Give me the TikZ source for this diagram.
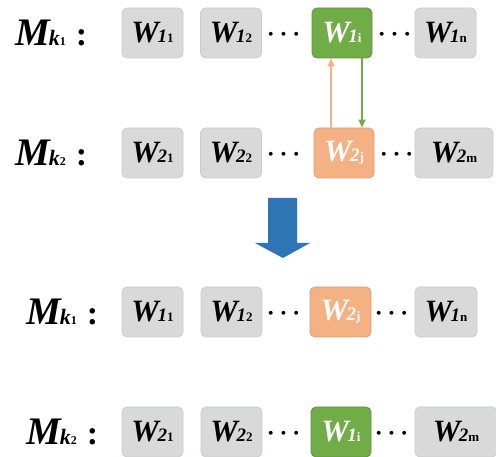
\documentclass[tikz,border=0pt]{standalone}
\usepackage{amsmath}
\usepackage{fontspec}
\setmainfont{Liberation Serif}
\usetikzlibrary{arrows.meta}
\definecolor{boxgray}{HTML}{D9D9D9}
\definecolor{boxedge}{HTML}{C6CCD4}
\definecolor{mygreen}{HTML}{70AD47}
\definecolor{myorange}{HTML}{F4B183}
\definecolor{myblue}{HTML}{2E75B6}
\newcommand{\wlab}[2]{{\fontsize{31}{31}\selectfont\bfseries\itshape W}\kern-1.5pt{\fontsize{19}{19}\selectfont\bfseries\itshape #1}{\fontsize{13}{13}\selectfont\bfseries #2}}
\newcommand{\mlab}[1]{{\fontsize{39}{39}\selectfont\bfseries\itshape M}\kern-1pt{\fontsize{22}{22}\selectfont\bfseries\itshape k}{\fontsize{12}{12}\selectfont\bfseries #1}\hspace{10pt}{\fontsize{34}{34}\selectfont\bfseries :}}
\tikzset{
  wbox/.style={draw=boxedge, line width=0.8pt, fill=boxgray, rounded corners=5pt, minimum height=50pt, inner sep=0pt, text=black},
  gbox/.style={wbox, fill=mygreen, draw=mygreen!85!black, text=white},
  obox/.style={wbox, fill=myorange, draw=myorange!90!black, text=white},
  dotsn/.style={inner sep=0pt, font=\fontsize{34}{34}\selectfont},
  mnode/.style={anchor=west, inner sep=0pt},
}
\begin{document}
\begin{tikzpicture}[x=1pt,y=-1pt]
\useasboundingbox (0,0) rectangle (496,457);
\clip (0,0) rectangle (496,457);
% Row 1
\node[mnode] (m1) at (15,33) {\mlab{1}};
\node[wbox, minimum width=61pt] (a1) at (152.5,33) {\wlab{1}{1}};
\node[wbox, minimum width=61pt] (a2) at (231,33) {\wlab{1}{2}};
\node[dotsn] (ad1) at (286,35) {$\boldsymbol{\cdots}$};
\node[gbox, minimum width=60pt] (ai) at (342,33) {\wlab{1}{i}};
\node[dotsn] (ad2) at (397,35) {$\boldsymbol{\cdots}$};
\node[wbox, minimum width=61pt] (an) at (445.5,33) {\wlab{1}{n}};
% Row 2
\node[mnode] (m2) at (15,153) {\mlab{2}};
\node[wbox, minimum width=61pt] (b1) at (152.5,153) {\wlab{2}{1}};
\node[wbox, minimum width=61pt] (b2) at (231,153) {\wlab{2}{2}};
\node[dotsn] (bd1) at (286,155) {$\boldsymbol{\cdots}$};
\node[obox, minimum width=60pt] (bj) at (344,153) {\wlab{2}{j}};
\node[dotsn] (bd2) at (399,155) {$\boldsymbol{\cdots}$};
\node[wbox, minimum width=78pt] (bm) at (454,153) {\wlab{2}{m}};
% swap arrows
\coordinate (ou) at (331,0);
\coordinate (gd) at (362,0);
\draw[myorange, line width=1.3pt, -{Triangle[length=8pt,width=7pt]}] (bj.north -| ou) -- (ai.south -| ou);
\draw[mygreen, line width=1.3pt, -{Triangle[length=8pt,width=7pt]}] (ai.south -| gd) -- (bj.north -| gd);
% big arrow
\fill[myblue] (268,198) -- (297,198) -- (297,243) -- (310,243) -- (283,258) -- (255,243) -- (268,243) -- cycle;
% Row 3
\node[mnode] (m3) at (26,312) {\mlab{1}};
\node[wbox, minimum width=61pt] (c1) at (152.5,312) {\wlab{1}{1}};
\node[wbox, minimum width=61pt] (c2) at (231.5,312) {\wlab{1}{2}};
\node[dotsn] (cd1) at (286,314) {$\boldsymbol{\cdots}$};
\node[obox, minimum width=61pt] (cj) at (340.5,312) {\wlab{2}{j}};
\node[dotsn] (cd2) at (394,314) {$\boldsymbol{\cdots}$};
\node[wbox, minimum width=62pt] (cn) at (446,312) {\wlab{1}{n}};
% Row 4
\node[mnode] (m4) at (26,432) {\mlab{2}};
\node[wbox, minimum width=61pt] (d1) at (152.5,432) {\wlab{2}{1}};
\node[wbox, minimum width=61pt] (d2) at (231.5,432) {\wlab{2}{2}};
\node[dotsn] (dd1) at (286,434) {$\boldsymbol{\cdots}$};
\node[gbox, minimum width=60pt] (di) at (341,432) {\wlab{1}{i}};
\node[dotsn] (dd2) at (394,434) {$\boldsymbol{\cdots}$};
\node[wbox, minimum width=82pt] (dm) at (456,432) {\wlab{2}{m}};
\end{tikzpicture}
\end{document}
